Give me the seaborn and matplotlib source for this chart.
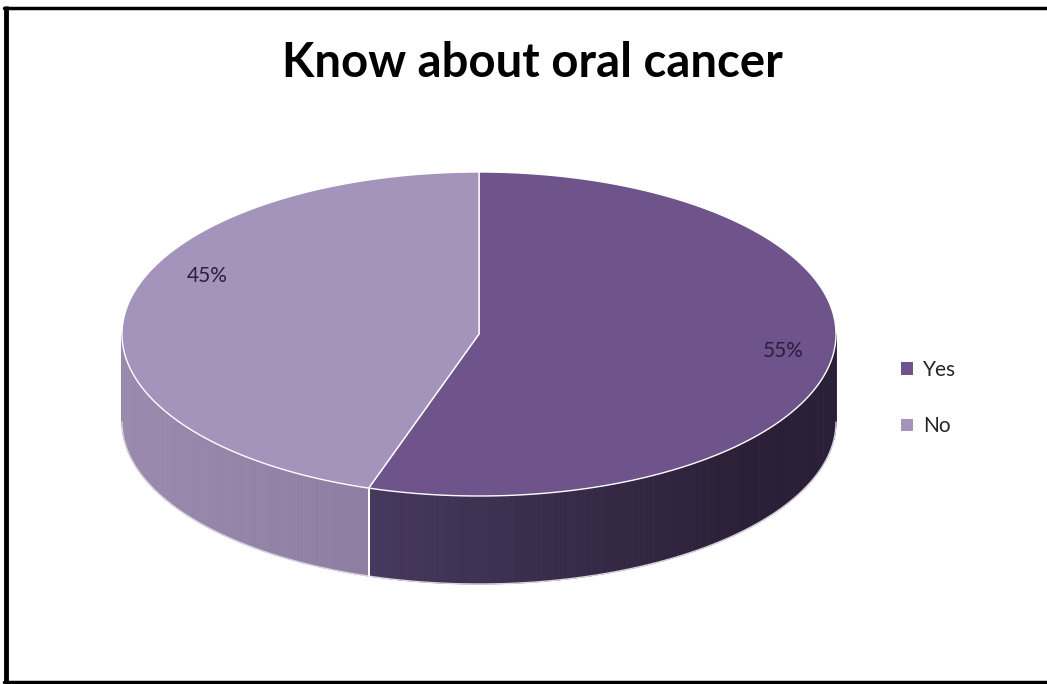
import numpy as np
import matplotlib
matplotlib.use("Agg")
import matplotlib.pyplot as plt
import seaborn as sns
from matplotlib.patches import Polygon, Patch

# ---- data ----
categories = ["Yes", "No"]
values = [55, 45]
labels = ["55%", "45%"]
top_colors = ["#6E548B", "#A494BC"]
side_light = ["#4B3C63", "#9A8BAE"]
side_dark = ["#2A1F36", "#76678A"]
title = "Know about oral cancer"

sns.set_theme(style="white")
plt.rcParams['font.family'] = ['Lato', 'DejaVu Sans']

W, H = 1047, 684
fig = plt.figure(figsize=(W / 100, H / 100), dpi=100)
ax = fig.add_axes([0, 0, 1, 1])
ax.set_xlim(0, W)
ax.set_ylim(H, 0)
ax.axis("off")

# ellipse geometry (pixels)
cx, cy, a, b, depth = 479, 334, 357, 162, 88


def pt(theta_deg, dz=0.0):
    t = np.radians(theta_deg)
    return cx + a * np.cos(t), cy - b * np.sin(t) + dz


# slice angle ranges: start at 90 deg, go clockwise
total = float(sum(values))
starts, ends = [], []
ang = 90.0
for v in values:
    sweep = 360.0 * v / total
    starts.append(ang)
    ends.append(ang - sweep)
    ang -= sweep


def lerp_color(c1, c2, f):
    c1 = np.array(matplotlib.colors.to_rgb(c1))
    c2 = np.array(matplotlib.colors.to_rgb(c2))
    return tuple(c1 + (c2 - c1) * f)


# side walls (front half: angles in [-180, 0])
for i in range(len(values)):
    hi, lo = starts[i], ends[i]
    segs = []
    for shift in (0, -360, 360):
        s_hi = min(hi + shift, 0.0)
        s_lo = max(lo + shift, -180.0)
        if s_hi > s_lo:
            segs.append((s_lo, s_hi))
    for s_lo, s_hi in segs:
        thetas = np.linspace(s_lo, s_hi, 120)
        for k in range(len(thetas) - 1):
            t0, t1 = thetas[k], thetas[k + 1]
            xm = np.cos(np.radians((t0 + t1) / 2))
            f = (xm + 1) / 2
            if i == 0:
                f = np.clip((xm + 0.45) / 1.2, 0, 1)
            col = lerp_color(side_light[i], side_dark[i], f)
            p = [pt(t0), pt(t1), pt(t1, depth), pt(t0, depth)]
            ax.add_patch(Polygon(p, closed=True, facecolor=col, edgecolor=col,
                                 linewidth=0.6, zorder=2))
        bx = [pt(t, depth)[0] for t in thetas]
        by = [pt(t, depth)[1] for t in thetas]
        ax.plot(bx, by, color="#D8D3DE", lw=1.0, zorder=3)

# vertical seams at visible slice boundaries
for i in range(len(values)):
    e = ends[i] % 360
    if 180 <= e <= 360:
        x0, y0 = pt(e)
        x1, y1 = pt(e, depth)
        ax.plot([x0, x1], [y0, y1], color="white", lw=1.4, zorder=4)

# top faces
for i in range(len(values)):
    thetas = np.linspace(starts[i], ends[i], 300)
    pts = [(cx, cy)] + [pt(t) for t in thetas]
    ax.add_patch(Polygon(pts, closed=True, facecolor=top_colors[i],
                         edgecolor="white", linewidth=1.0, zorder=5))

# percentage labels
label_r = [0.86, 0.84]
label_shift = [2.0, -16.0]
for i in range(len(values)):
    mid = (starts[i] + ends[i]) / 2 + label_shift[i]
    t = np.radians(mid)
    lx = cx + a * label_r[i] * np.cos(t)
    ly = cy - b * label_r[i] * np.sin(t)
    ax.text(lx, ly, labels[i], ha="center", va="center", fontsize=15,
            color="#2A1E40", zorder=6)

# title
fig.text(0.508, 0.908, title, ha="center", va="center", fontsize=34,
         fontweight="bold", color="black")

# legend
handles = [Patch(facecolor=top_colors[i], edgecolor="none") for i in range(len(values))]
leg = fig.legend(handles, categories, loc="center left",
                 bbox_to_anchor=(0.843, 0.418), frameon=False, fontsize=15,
                 handlelength=0.55, handleheight=0.55, handletextpad=0.5,
                 labelspacing=1.75)

# frame (left, top, bottom)
ax.plot([5.5, 5.5], [6, 683], color="black", lw=3.5, zorder=10, solid_capstyle="butt")
ax.plot([4, W], [7.5, 7.5], color="black", lw=2.5, zorder=10)
ax.plot([4, W], [682, 682], color="black", lw=2.5, zorder=10)

fig.savefig("out.png", dpi=100, facecolor="white")
